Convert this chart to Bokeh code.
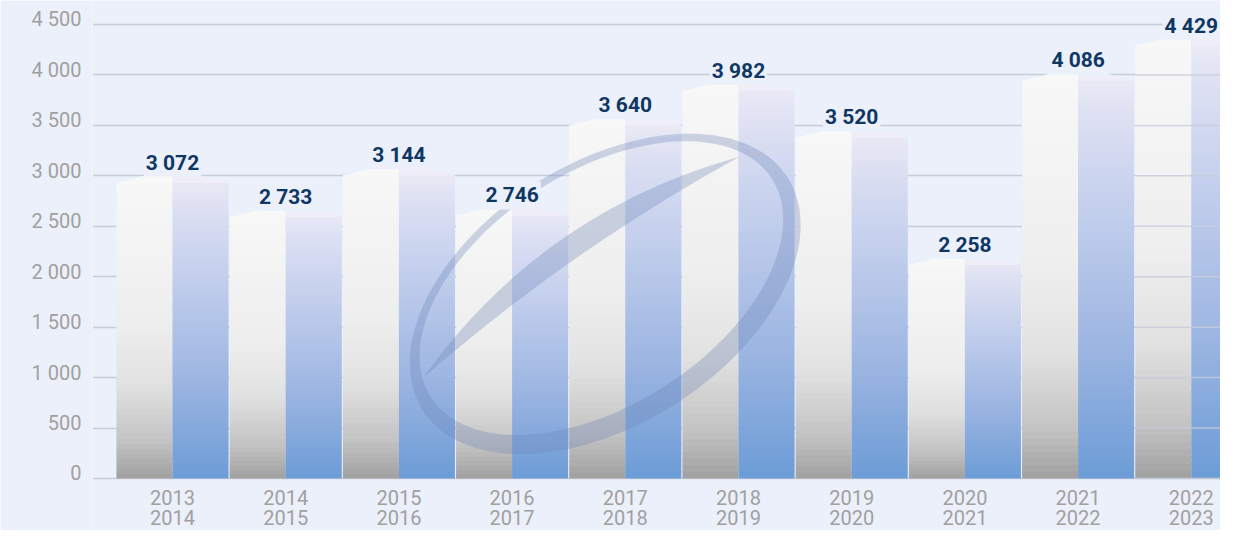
import numpy as np
from bokeh.plotting import figure
from bokeh.models import Range1d, FixedTicker
from bokeh.core.properties import value
from bokeh.embed import file_html
from bokeh.resources import INLINE

# ---------------- data ----------------
season_start = ["2013", "2014", "2015", "2016", "2017", "2018", "2019", "2020", "2021", "2022"]
season_end = ["2014", "2015", "2016", "2017", "2018", "2019", "2020", "2021", "2022", "2023"]
attendance = [3072, 2733, 3144, 2746, 3640, 3982, 3520, 2258, 4086, 4429]
value_labels = ["3 072", "2 733", "3 144", "2 746", "3 640", "3 982", "3 520", "2 258", "4 086", "4 429"]
y_ticks = [0, 500, 1000, 1500, 2000, 2500, 3000, 3500, 4000, 4500]
y_tick_labels = ["0", "500", "1 000", "1 500", "2 000", "2 500", "3 000", "3 500", "4 000", "4 500"]

# ---------------- style ----------------
BG = "#ecf0fa"
GRID = "#c8ccd9"
AXIS_TXT = "#a0a0a0"
LABEL_TXT = "#0f3764"
FONT = "Roboto"
HALF = 0.495          # half bar width (category units)
ROOF = 135            # roof drop at bar edges (value units)
NSLICE = 60
W, H = 1220, 530
FRAME_LEFT = 92
ZERO_PX = 478         # zero line, px from top
TOP_PX = 24           # 4500 line, px from top
FIRST_PX = 172        # first bar centre, px from left
STEP = 113.2          # px per category

left_stops = [(0.0, "#a0a0a0"), (0.12, "#c3c3c3"), (0.3, "#e1e1e1"), (0.5, "#eeeeee"), (1.0, "#f8f8f8")]
right_stops = [(0.0, "#6c9cd6"), (0.3, "#9ab4e1"), (0.6, "#bdcbeb"), (0.85, "#dadef2"), (1.0, "#efedf7")]


def hex2rgb(h):
    h = h.lstrip("#")
    return np.array([int(h[i:i + 2], 16) for i in (0, 2, 4)], dtype=float)


def grad(stops, t):
    t = min(max(t, 0.0), 1.0)
    for (t0, c0), (t1, c1) in zip(stops[:-1], stops[1:]):
        if t <= t1:
            f = (t - t0) / (t1 - t0) if t1 > t0 else 0
            c = hex2rgb(c0) * (1 - f) + hex2rgb(c1) * f
            return "#%02x%02x%02x" % tuple(int(round(v)) for v in c)
    return stops[-1][1]


x_start = -(FIRST_PX - FRAME_LEFT) / STEP
x_end = x_start + (W - FRAME_LEFT) / STEP
PXU = (ZERO_PX - TOP_PX) / 4500.0
y_end = ZERO_PX / PXU
y_start = -(H - ZERO_PX) / PXU

p = figure(width=W, height=H, output_backend="svg", toolbar_location=None,
           x_range=Range1d(x_start, x_end), y_range=Range1d(y_start, y_end),
           x_axis_location=None,
           min_border_left=FRAME_LEFT, min_border_right=0, min_border_top=0, min_border_bottom=0,
           background_fill_color=BG, border_fill_color=BG, outline_line_color=None)

# extra ranges in canvas pixels for the watermark
p.extra_x_ranges = {"px": Range1d(FRAME_LEFT, W)}
p.extra_y_ranges = {"py": Range1d(H, 0)}

# axes / grid
p.xgrid.visible = False
p.ygrid.ticker = FixedTicker(ticks=y_ticks)
p.ygrid.grid_line_color = GRID
p.ygrid.grid_line_width = 1.5

yax = p.yaxis[0]
yax.ticker = FixedTicker(ticks=[v + 50 for v in y_ticks])
yax.major_label_overrides = {v + 50: lab for v, lab in zip(y_ticks, y_tick_labels)}
yax.axis_line_color = None
yax.major_tick_line_color = None
yax.minor_tick_line_color = None
yax.major_tick_out = 0
yax.major_tick_in = 0
yax.major_label_standoff = 11
yax.major_label_text_font = FONT
yax.major_label_text_font_size = "20px"
yax.major_label_text_color = AXIS_TXT

# ---------------- bars (gradient faces) ----------------
EPS = 0.8 / PXU  # small overlap between slices to avoid seams
ql, qr, qb, qt, qc = [], [], [], [], []
roof_xs, roof_ys, roof_c = [], [], []
for i, v in enumerate(attendance):
    body = v - ROOF
    for face, stops in (("L", left_stops), ("R", right_stops)):
        x0, x1 = (i - HALF, i) if face == "L" else (i, i + HALF)
        for k in range(NSLICE):
            b = body * k / NSLICE
            t = body * (k + 1) / NSLICE
            frac = (b + t) / 2 / v
            ql.append(x0); qr.append(x1); qb.append(b)
            qt.append(t + EPS if k < NSLICE - 1 else t)
            qc.append(grad(stops, frac))
        if face == "L":
            roof_xs.append([i - HALF, i, i])
        else:
            roof_xs.append([i, i, i + HALF])
        roof_ys.append([body - EPS, v, body - EPS])
        roof_c.append(grad(stops, 1.0))

p.quad(left=ql, right=qr, bottom=qb, top=qt, fill_color=qc, line_color=None)
p.patches(xs=roof_xs, ys=roof_ys, fill_color=roof_c, line_color=None)

# gridlines show through the last bar in the reference
last = len(attendance) - 1
over = [t for t in y_ticks if t <= attendance[last] - ROOF]
p.segment(x0=[last - HALF] * len(over), x1=[last + HALF] * len(over), y0=over, y1=over,
          line_color=GRID, line_width=1.5, line_alpha=0.8)

# ---------------- watermark (rugby ball outline) ----------------
def to_canvas(x, y):
    """map reference-pixel geometry onto this canvas"""
    x = np.asarray(x); y = np.asarray(y)
    cx = FIRST_PX + (x - 174) * STEP / 113.8
    cy = ZERO_PX - (490 - y) * (ZERO_PX - TOP_PX) / 460.0
    return list(cx), list(cy)


def ellipse(cx, cy, a, b, th, n=200):
    t = np.linspace(0, 2 * np.pi, n, endpoint=False)
    x = cx + a * np.cos(t) * np.cos(th) - b * np.sin(t) * np.sin(th)
    y = cy - (a * np.cos(t) * np.sin(th) + b * np.sin(t) * np.cos(th))
    return list(x), list(y)


th = np.radians(33)
ox, oy = ellipse(609, 303, 218, 132, th)
ix, iy = ellipse(605.2, 297.1, 204, 118, th)
ring_x = ox + [ox[0]] + [ix[0]] + ix[::-1]
ring_y = oy + [oy[0]] + [iy[0]] + iy[::-1]
ring_x, ring_y = to_canvas(ring_x, ring_y)
WM = "#6d86b6"
p.patch(ring_x, ring_y, fill_color=WM, fill_alpha=0.32, line_color=None,
        x_range_name="px", y_range_name="py")


def bez(p0, c, p1, n=60):
    t = np.linspace(0, 1, n)
    x = (1 - t) ** 2 * p0[0] + 2 * (1 - t) * t * c[0] + t ** 2 * p1[0]
    y = (1 - t) ** 2 * p0[1] + 2 * (1 - t) * t * c[1] + t ** 2 * p1[1]
    return list(x), list(y)


P0, P1 = (426, 388), (744, 164)
ux, uy = bez(P0, (545, 220), P1)
lx, ly = bez(P0, (574, 258), P1)
sw_x, sw_y = to_canvas(ux + lx[::-1], uy + ly[::-1])
p.patch(sw_x, sw_y, fill_color=WM, fill_alpha=0.32, line_color=None,
        x_range_name="px", y_range_name="py")

# ---------------- labels ----------------
idx = list(range(len(attendance)))
p.text(x=idx, y=[0] * len(idx), text=season_start, y_offset=19, text_align="center",
       text_baseline="middle", text_font=value(FONT), text_font_size="20px", text_color=AXIS_TXT)
p.text(x=idx, y=[0] * len(idx), text=season_end, y_offset=39, text_align="center",
       text_baseline="middle", text_font=value(FONT), text_font_size="20px", text_color=AXIS_TXT)

p.text(x=idx, y=attendance, text=value_labels, y_offset=-6, text_align="center",
       text_baseline="alphabetic", text_font=value(FONT), text_font_size="21px",
       text_font_style="bold", text_color=LABEL_TXT,
       background_fill_color=BG, padding=2)

open("out.html", "w").write(file_html(p, INLINE))
